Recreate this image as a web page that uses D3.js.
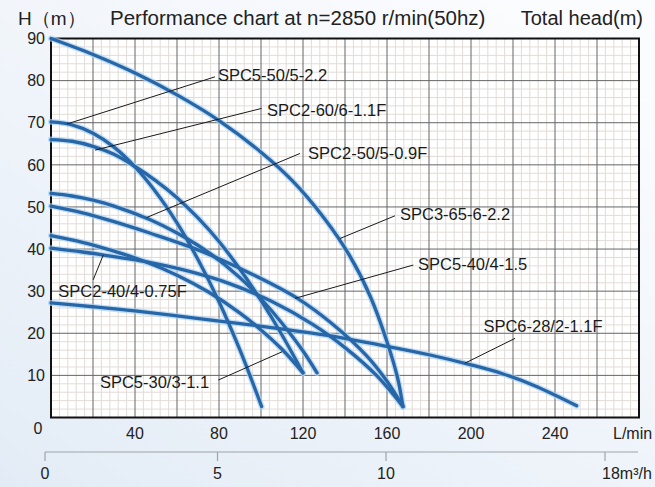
<!DOCTYPE html>
<html lang="en">
<head>
<meta charset="UTF-8">
<script src="https://d3js.org/d3.v7.min.js"></script>
<title>Performance chart</title>
<style>
  body { margin: 0; }
  svg { display: block; font-family: "Liberation Sans", Arial, sans-serif; }
</style>
</head>
<body>
<div id="chart"></div>
<script>
// flow in L/min, head in m
var spc3_65 = [[0,90],[20,86.2],[40,81.8],[60,76.6],[80,70.5],[100,63],[115,56.2],[130,47.4],[142,38.6],[152,28.8],[160,18],[165,9.5],[167.6,2.6]];
var spc5_50 = [[0,70.2],[10,69.5],[20,67.5],[30,64.2],[40,59.5],[50,53.5],[60,46.2],[70,37.5],[80,27.5],[90,16],[100.3,2.6]];
var spc2_60 = [[0,66],[10,65.6],[20,64.4],[30,62.5],[40,59.6],[50,56.2],[60,52.2],[70,47.4],[80,41.8],[90,35.2],[100,27.8],[110,19.6],[120,10.6]];
var spc2_50 = [[0,53.2],[10,52.6],[20,51.6],[30,50.2],[47,47],[60,43.8],[75,39.2],[90,33.2],[100,28.2],[110,22.4],[120,15.8],[126.7,10.6]];
var spc5_40 = [[0,50.2],[15,48.6],[30,46.5],[47,43.8],[70,39.8],[95,34.2],[117,28.4],[135,21.8],[150,14.8],[160,8.6],[167.6,2.6]];
var spc5_30 = [[0,43.2],[15,41.6],[30,39.5],[45,37],[60,33.8],[75,29.8],[90,24.8],[100,20.8],[110,16.2],[120,10.6]];
var spc2_40 = [[0,40.2],[15,39.3],[30,38.2],[45,37],[65,34.8],[85,31.8],[105,27.6],[125,22],[140,16.6],[155,10],[167.6,2.6]];
var spc6_28 = [[0,27.2],[20,26.3],[40,25.3],[68.6,23.6],[95,22],[130,19.6],[160,16.9],[180,14.9],[200,12.5],[215,10.4],[230,7.6],[250.3,2.8]];

var curves = [spc3_65, spc5_50, spc2_60, spc2_50, spc5_40, spc5_30, spc2_40, spc6_28];

// label text position and leader line (curve point -> text end), in L/min and m
var labels = [
  {name: "SPC5-50/5-2.2",   tx: 79.5,  ty: 81.2, x1: 7.6,   y1: 69.7, x2: 78.1,  y2: 80.9},
  {name: "SPC2-60/6-1.1F",  tx: 102.9, ty: 73.0, x1: 21,    y1: 63.5, x2: 100.3, y2: 73.4},
  {name: "SPC2-50/5-0.9F",  tx: 122.4, ty: 62.7, x1: 45.6,  y1: 47.5, x2: 118.6, y2: 62.7},
  {name: "SPC3-65-6-2.2",   tx: 166.2, ty: 48.3, x1: 137.6, y1: 42.5, x2: 163.8, y2: 47.9},
  {name: "SPC5-40/4-1.5",   tx: 174.8, ty: 36.5, x1: 116.2, y1: 28.3, x2: 172.5, y2: 36.2},
  {name: "SPC2-40/4-0.75F", tx: 3.5,   ty: 30.1, x1: 24.9,  y1: 38.6, x2: 20.1,  y2: 32.7},
  {name: "SPC5-30/3-1.1",   tx: 23.3,  ty: 8.3,  x1: 110,   y1: 15.6, x2: 79.7,  y2: 8.9},
  {name: "SPC6-28/2-1.1F",  tx: 205.9, ty: 21.8, x1: 197.1, y1: 12.9, x2: 221,   y2: 18.8}
];

var xTicks = [40, 80, 120, 160, 200, 240];
var yTicks = [10, 20, 30, 40, 50, 60, 70, 80, 90];
var m3Ticks = [0, 5, 10, 18];

var width = 655, height = 487;

var svg = d3.select("#chart").append("svg")
    .attr("width", width)
    .attr("height", height);

// background
var defs = svg.append("defs");
var grad = defs.append("linearGradient")
    .attr("id", "bg").attr("x1", "0").attr("y1", "1").attr("x2", "0.8").attr("y2", "0");
grad.append("stop").attr("offset", "0").attr("stop-color", "#e3ecf6");
grad.append("stop").attr("offset", "1").attr("stop-color", "#fbfcfe");
svg.append("rect").attr("width", width).attr("height", height).attr("fill", "url(#bg)");

var x = d3.scaleLinear().domain([0, 280]).range([51, 639]);
var y = d3.scaleLinear().domain([0, 90]).range([417.5, 38.5]);
// second flow axis in m3/h (drawn as on the original sheet)
var xm3 = d3.scaleLinear().domain([0, 5, 10, 18]).range([45, 217.5, 386, 605]);

// plot area
svg.append("rect")
    .attr("x", x(0)).attr("y", y(90))
    .attr("width", x(280) - x(0)).attr("height", y(0) - y(90))
    .attr("fill", "#ffffff");

var grid = svg.append("g");
// minor grid
grid.selectAll(".vminor").data(d3.range(4, 280, 4).filter(function(d) { return d % 20 != 0; }))
  .enter().append("line")
    .attr("x1", function(d) { return x(d); }).attr("x2", function(d) { return x(d); })
    .attr("y1", y(0)).attr("y2", y(90))
    .attr("stroke", "#e2dcd8").attr("stroke-width", 1);
grid.selectAll(".hminor").data(d3.range(2, 90, 2).filter(function(d) { return d % 10 != 0; }))
  .enter().append("line")
    .attr("y1", function(d) { return y(d); }).attr("y2", function(d) { return y(d); })
    .attr("x1", x(0)).attr("x2", x(280))
    .attr("stroke", "#e2dcd8").attr("stroke-width", 1);
// major grid
grid.selectAll(".vmajor").data(d3.range(20, 280, 20))
  .enter().append("line")
    .attr("x1", function(d) { return x(d); }).attr("x2", function(d) { return x(d); })
    .attr("y1", y(0)).attr("y2", y(90))
    .attr("stroke", "#666").attr("stroke-width", 1);
grid.selectAll(".hmajor").data(d3.range(10, 90, 10))
  .enter().append("line")
    .attr("y1", function(d) { return y(d); }).attr("y2", function(d) { return y(d); })
    .attr("x1", x(0)).attr("x2", x(280))
    .attr("stroke", "#666").attr("stroke-width", 1);

// frame
svg.append("rect")
    .attr("x", x(0)).attr("y", y(90))
    .attr("width", x(280) - x(0)).attr("height", y(0) - y(90))
    .attr("fill", "none").attr("stroke", "#111").attr("stroke-width", 2);

// curves
var line = d3.line()
    .x(function(d) { return x(d[0]); })
    .y(function(d) { return y(d[1]); })
    .curve(d3.curveCatmullRom.alpha(0.5));

var cg = svg.append("g");
cg.selectAll(".halo").data(curves).enter().append("path")
    .attr("d", line)
    .attr("fill", "none").attr("stroke", "#a9d0f2").attr("stroke-width", 6)
    .attr("stroke-opacity", 0.7).attr("stroke-linecap", "round");
cg.selectAll(".curve").data(curves).enter().append("path")
    .attr("d", line)
    .attr("fill", "none").attr("stroke", "#2767a8").attr("stroke-width", 3.3)
    .attr("stroke-linecap", "round");

// leader lines and labels
var lg = svg.append("g");
lg.selectAll("line").data(labels).enter().append("line")
    .attr("x1", function(d) { return x(d.x1); }).attr("y1", function(d) { return y(d.y1); })
    .attr("x2", function(d) { return x(d.x2); }).attr("y2", function(d) { return y(d.y2); })
    .attr("stroke", "#1a1a1a").attr("stroke-width", 1);
lg.selectAll("text").data(labels).enter().append("text")
    .attr("x", function(d) { return x(d.tx); })
    .attr("y", function(d) { return y(d.ty); })
    .attr("dy", "0.36em")
    .attr("font-size", 16.5).attr("fill", "#1a1a1a")
    .text(function(d) { return d.name; });

// axis labels
var tickColor = "#222";
svg.append("g").selectAll("text").data(yTicks).enter().append("text")
    .attr("x", 45).attr("y", function(d) { return y(d); })
    .attr("dy", "0.36em").attr("text-anchor", "end")
    .attr("font-size", 16).attr("fill", tickColor)
    .text(function(d) { return d; });
svg.append("g").selectAll("text").data(xTicks).enter().append("text")
    .attr("x", function(d) { return x(d); }).attr("y", 433.5)
    .attr("dy", "0.36em").attr("text-anchor", "middle")
    .attr("font-size", 16).attr("fill", tickColor)
    .text(function(d) { return d; });
svg.append("text").attr("x", 38).attr("y", 428.5).attr("dy", "0.36em")
    .attr("text-anchor", "middle").attr("font-size", 16).attr("fill", tickColor).text("0");
svg.append("text").attr("x", 613).attr("y", 433.5).attr("dy", "0.36em")
    .attr("font-size", 16).attr("fill", tickColor).text("L/min");

// m3/h axis
var ax = svg.append("g");
ax.append("line").attr("x1", xm3(0)).attr("x2", 638).attr("y1", 452).attr("y2", 452)
    .attr("stroke", "#a0a4a8").attr("stroke-width", 1.2);
ax.selectAll(".tk").data(m3Ticks).enter().append("line")
    .attr("x1", function(d) { return xm3(d); }).attr("x2", function(d) { return xm3(d); })
    .attr("y1", 452).attr("y2", 461)
    .attr("stroke", "#a0a4a8").attr("stroke-width", 1.2);
ax.selectAll("text").data(m3Ticks.slice(0, 3)).enter().append("text")
    .attr("x", function(d) { return xm3(d); }).attr("y", 473)
    .attr("dy", "0.36em").attr("text-anchor", "middle")
    .attr("font-size", 16).attr("fill", tickColor)
    .text(function(d) { return d; });
ax.append("text").attr("x", xm3(18) - 3).attr("y", 473).attr("dy", "0.36em")
    .attr("font-size", 16).attr("fill", tickColor).text("18m³/h");

// title row
svg.append("text").attr("x", 18).attr("y", 25).attr("font-size", 19).attr("fill", tickColor).text("H（m）");
svg.append("text").attr("x", 110).attr("y", 25).attr("font-size", 20.5).attr("fill", tickColor)
    .text("Performance chart at n=2850 r/min(50hz)");
svg.append("text").attr("x", 643).attr("y", 25).attr("font-size", 20).attr("fill", tickColor)
    .attr("text-anchor", "end").text("Total head(m)");
</script>
</body>
</html>
